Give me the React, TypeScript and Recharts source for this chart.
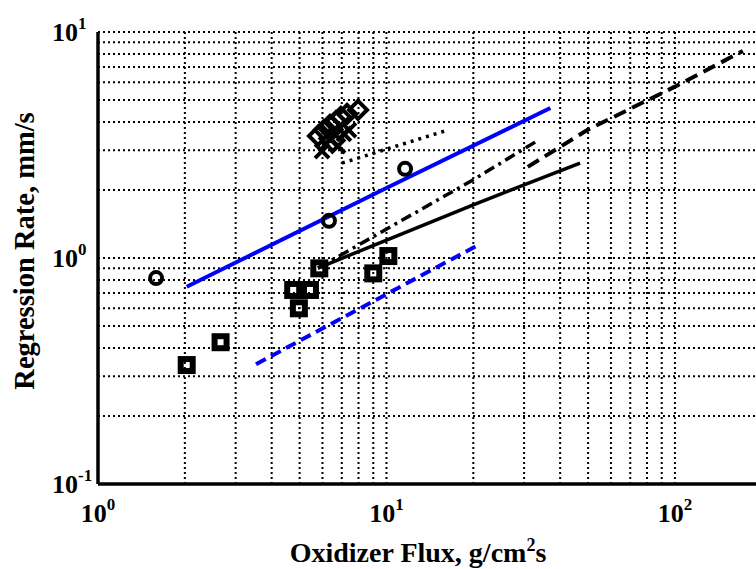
import { ScatterChart, Scatter, XAxis, YAxis, ReferenceLine } from "recharts";

// measured points, g/cm^2s vs mm/s
const circleFlux = [1.59, 6.32, 11.6];
const circleRate = [0.815, 1.46, 2.48];

const squareFlux = [2.03, 2.66, 4.75, 5.43, 4.97, 5.85, 9.0, 10.15];
const squareRate = [0.336, 0.424, 0.722, 0.722, 0.599, 0.9, 0.855, 1.02];

const diamondFlux = [5.79, 6.07, 6.37, 6.68, 6.95, 7.3, 7.97];
const diamondRate = [3.47, 3.68, 3.88, 4.04, 4.21, 4.34, 4.52];

const crossFlux = [5.98, 6.17, 6.37, 6.68, 7.12, 7.41, 6.79];
const crossRate = [2.97, 3.19, 3.36, 3.5, 3.54, 3.68, 3.13];

// correlation curves
const blueSolidFlux = [2.03, 10, 37];
const blueSolidRate = [0.746, 2.04, 4.61];

const blueDashFlux = [3.53, 21.1];
const blueDashRate = [0.339, 1.153];

const blackSolidFlux = [5.79, 20, 46.9];
const blackSolidRate = [0.903, 1.72, 2.63];

const dashDotFlux = [5.79, 20, 33.2];
const dashDotRate = [0.903, 2.22, 3.29];

const dashedFlux = [30.9, 50, 100, 172];
const dashedRate = [2.53, 3.7, 5.73, 8.24];

const dottedFlux = [7.01, 15.96];
const dottedRate = [2.63, 3.65];

const xTicks = [1, 10, 100];
const yTicks = [0.1, 1, 10];
const xGrid = [2, 3, 4, 5, 6, 7, 8, 9, 10, 20, 30, 40, 50, 60, 70, 80, 90, 100];
const yGrid = [0.2, 0.3, 0.4, 0.5, 0.6, 0.7, 0.8, 0.9, 1, 2, 3, 4, 5, 6, 7, 8, 9, 10];

const FONT = "'Liberation Serif', 'Times New Roman', serif";
const tickText = { fontFamily: FONT, fontWeight: "bold", fontSize: "26px", fill: "#000" } as const;
const supText = { fontSize: "17px" } as const;

const pts = (xs: number[], ys: number[]) => xs.map((x, i) => ({ flux: x, rate: ys[i] }));

function XTick(props: any) {
  const { x, y, payload } = props;
  const e = Math.round(Math.log10(payload.value));
  return (
    <text x={x} y={y + 38} textAnchor="middle" style={tickText}>
      10<tspan dy={-12} style={supText}>{e}</tspan>
    </text>
  );
}

function YTick(props: any) {
  const { x, y, payload } = props;
  const e = Math.round(Math.log10(payload.value));
  return (
    <text x={x - 46} y={y + 9} textAnchor="start" style={tickText}>
      10<tspan dy={-12} style={supText}>{e}</tspan>
    </text>
  );
}

const noDot = () => <g />;

const circle = (p: any) => (
  <circle cx={p.cx} cy={p.cy} r={6} fill="none" stroke="#000" strokeWidth={4} />
);
const square = (p: any) => (
  <rect x={p.cx - 6} y={p.cy - 6} width={12} height={12} fill="none" stroke="#000" strokeWidth={6} />
);
const diamond = (p: any) => (
  <path
    d={`M${p.cx},${p.cy - 9} L${p.cx + 9},${p.cy} L${p.cx},${p.cy + 9} L${p.cx - 9},${p.cy} Z`}
    fill="none"
    stroke="#000"
    strokeWidth={4}
  />
);
const cross = (p: any) => (
  <path
    d={`M${p.cx - 7},${p.cy - 7} L${p.cx + 7},${p.cy + 7} M${p.cx - 7},${p.cy + 7} L${p.cx + 7},${p.cy - 7}`}
    stroke="#000"
    strokeWidth={4}
  />
);

const gridStyle = { stroke: "#000", strokeWidth: 2, strokeDasharray: "2 3" };

export default function App() {
  return (
    <div style={{ position: "absolute", left: 0, top: 0, background: "#fff" }}>
      <ScatterChart width={756} height={569} margin={{ top: 32, right: 0, bottom: 0, left: 0 }}>
        <XAxis
          dataKey="flux"
          type="number"
          scale="log"
          domain={[1, 191]}
          allowDataOverflow
          ticks={xTicks}
          tick={<XTick />}
          tickLine={false}
          tickSize={0}
          tickMargin={0}
          height={85}
          axisLine={false}
          label={({ viewBox }: any) => (
            <text
              x={418}
              y={viewBox.y + 78}
              textAnchor="middle"
              fontFamily={FONT}
              fontWeight="bold"
              fontSize={28}
              fill="#000"
            >
              Oxidizer Flux, g/cm<tspan dy={-11} fontSize={18}>2</tspan>
              <tspan dy={11}>s</tspan>
            </text>
          )}
        />
        <YAxis
          dataKey="rate"
          type="number"
          scale="log"
          domain={[0.1, 10]}
          allowDataOverflow
          ticks={yTicks}
          tick={<YTick />}
          tickLine={false}
          tickSize={0}
          tickMargin={0}
          width={98}
          axisLine={false}
          label={() => (
            <text
              x={34}
              y={251}
              transform="rotate(-90, 34, 251)"
              textAnchor="middle"
              fontFamily={FONT}
              fontWeight="bold"
              fontSize={28.5}
              fill="#000"
            >
              Regression Rate, mm/s
            </text>
          )}
        />
        {xGrid.map((v) => (
          <ReferenceLine key={`vx${v}`} x={v} {...gridStyle} />
        ))}
        {yGrid.map((v) => (
          <ReferenceLine key={`hy${v}`} y={v} {...gridStyle} />
        ))}
        <ReferenceLine x={1} stroke="#000" strokeWidth={3.5} />
        <ReferenceLine y={0.1} stroke="#000" strokeWidth={3.5} />
        <Scatter data={pts(dottedFlux, dottedRate)} shape={noDot} isAnimationActive={false}
          line={{ stroke: "#000", strokeWidth: 3.5, strokeDasharray: "3 5" }} />
        <Scatter data={pts(dashedFlux, dashedRate)} shape={noDot} isAnimationActive={false}
          line={{ stroke: "#000", strokeWidth: 4, strokeDasharray: "13 7" }} />
        <Scatter data={pts(dashDotFlux, dashDotRate)} shape={noDot} isAnimationActive={false}
          line={{ stroke: "#000", strokeWidth: 3.5, strokeDasharray: "11 5 3 5" }} />
        <Scatter data={pts(blackSolidFlux, blackSolidRate)} shape={noDot} isAnimationActive={false}
          line={{ stroke: "#000", strokeWidth: 3.5 }} />
        <Scatter data={pts(blueDashFlux, blueDashRate)} shape={noDot} isAnimationActive={false}
          line={{ stroke: "#0000ff", strokeWidth: 4, strokeDasharray: "11 6" }} />
        <Scatter data={pts(blueSolidFlux, blueSolidRate)} shape={noDot} isAnimationActive={false}
          line={{ stroke: "#0000ff", strokeWidth: 4 }} />
        <Scatter data={pts(circleFlux, circleRate)} shape={circle} isAnimationActive={false} />
        <Scatter data={pts(squareFlux, squareRate)} shape={square} isAnimationActive={false} />
        <Scatter data={pts(crossFlux, crossRate)} shape={cross} isAnimationActive={false} />
        <Scatter data={pts(diamondFlux, diamondRate)} shape={diamond} isAnimationActive={false} />
      </ScatterChart>
    </div>
  );
}
